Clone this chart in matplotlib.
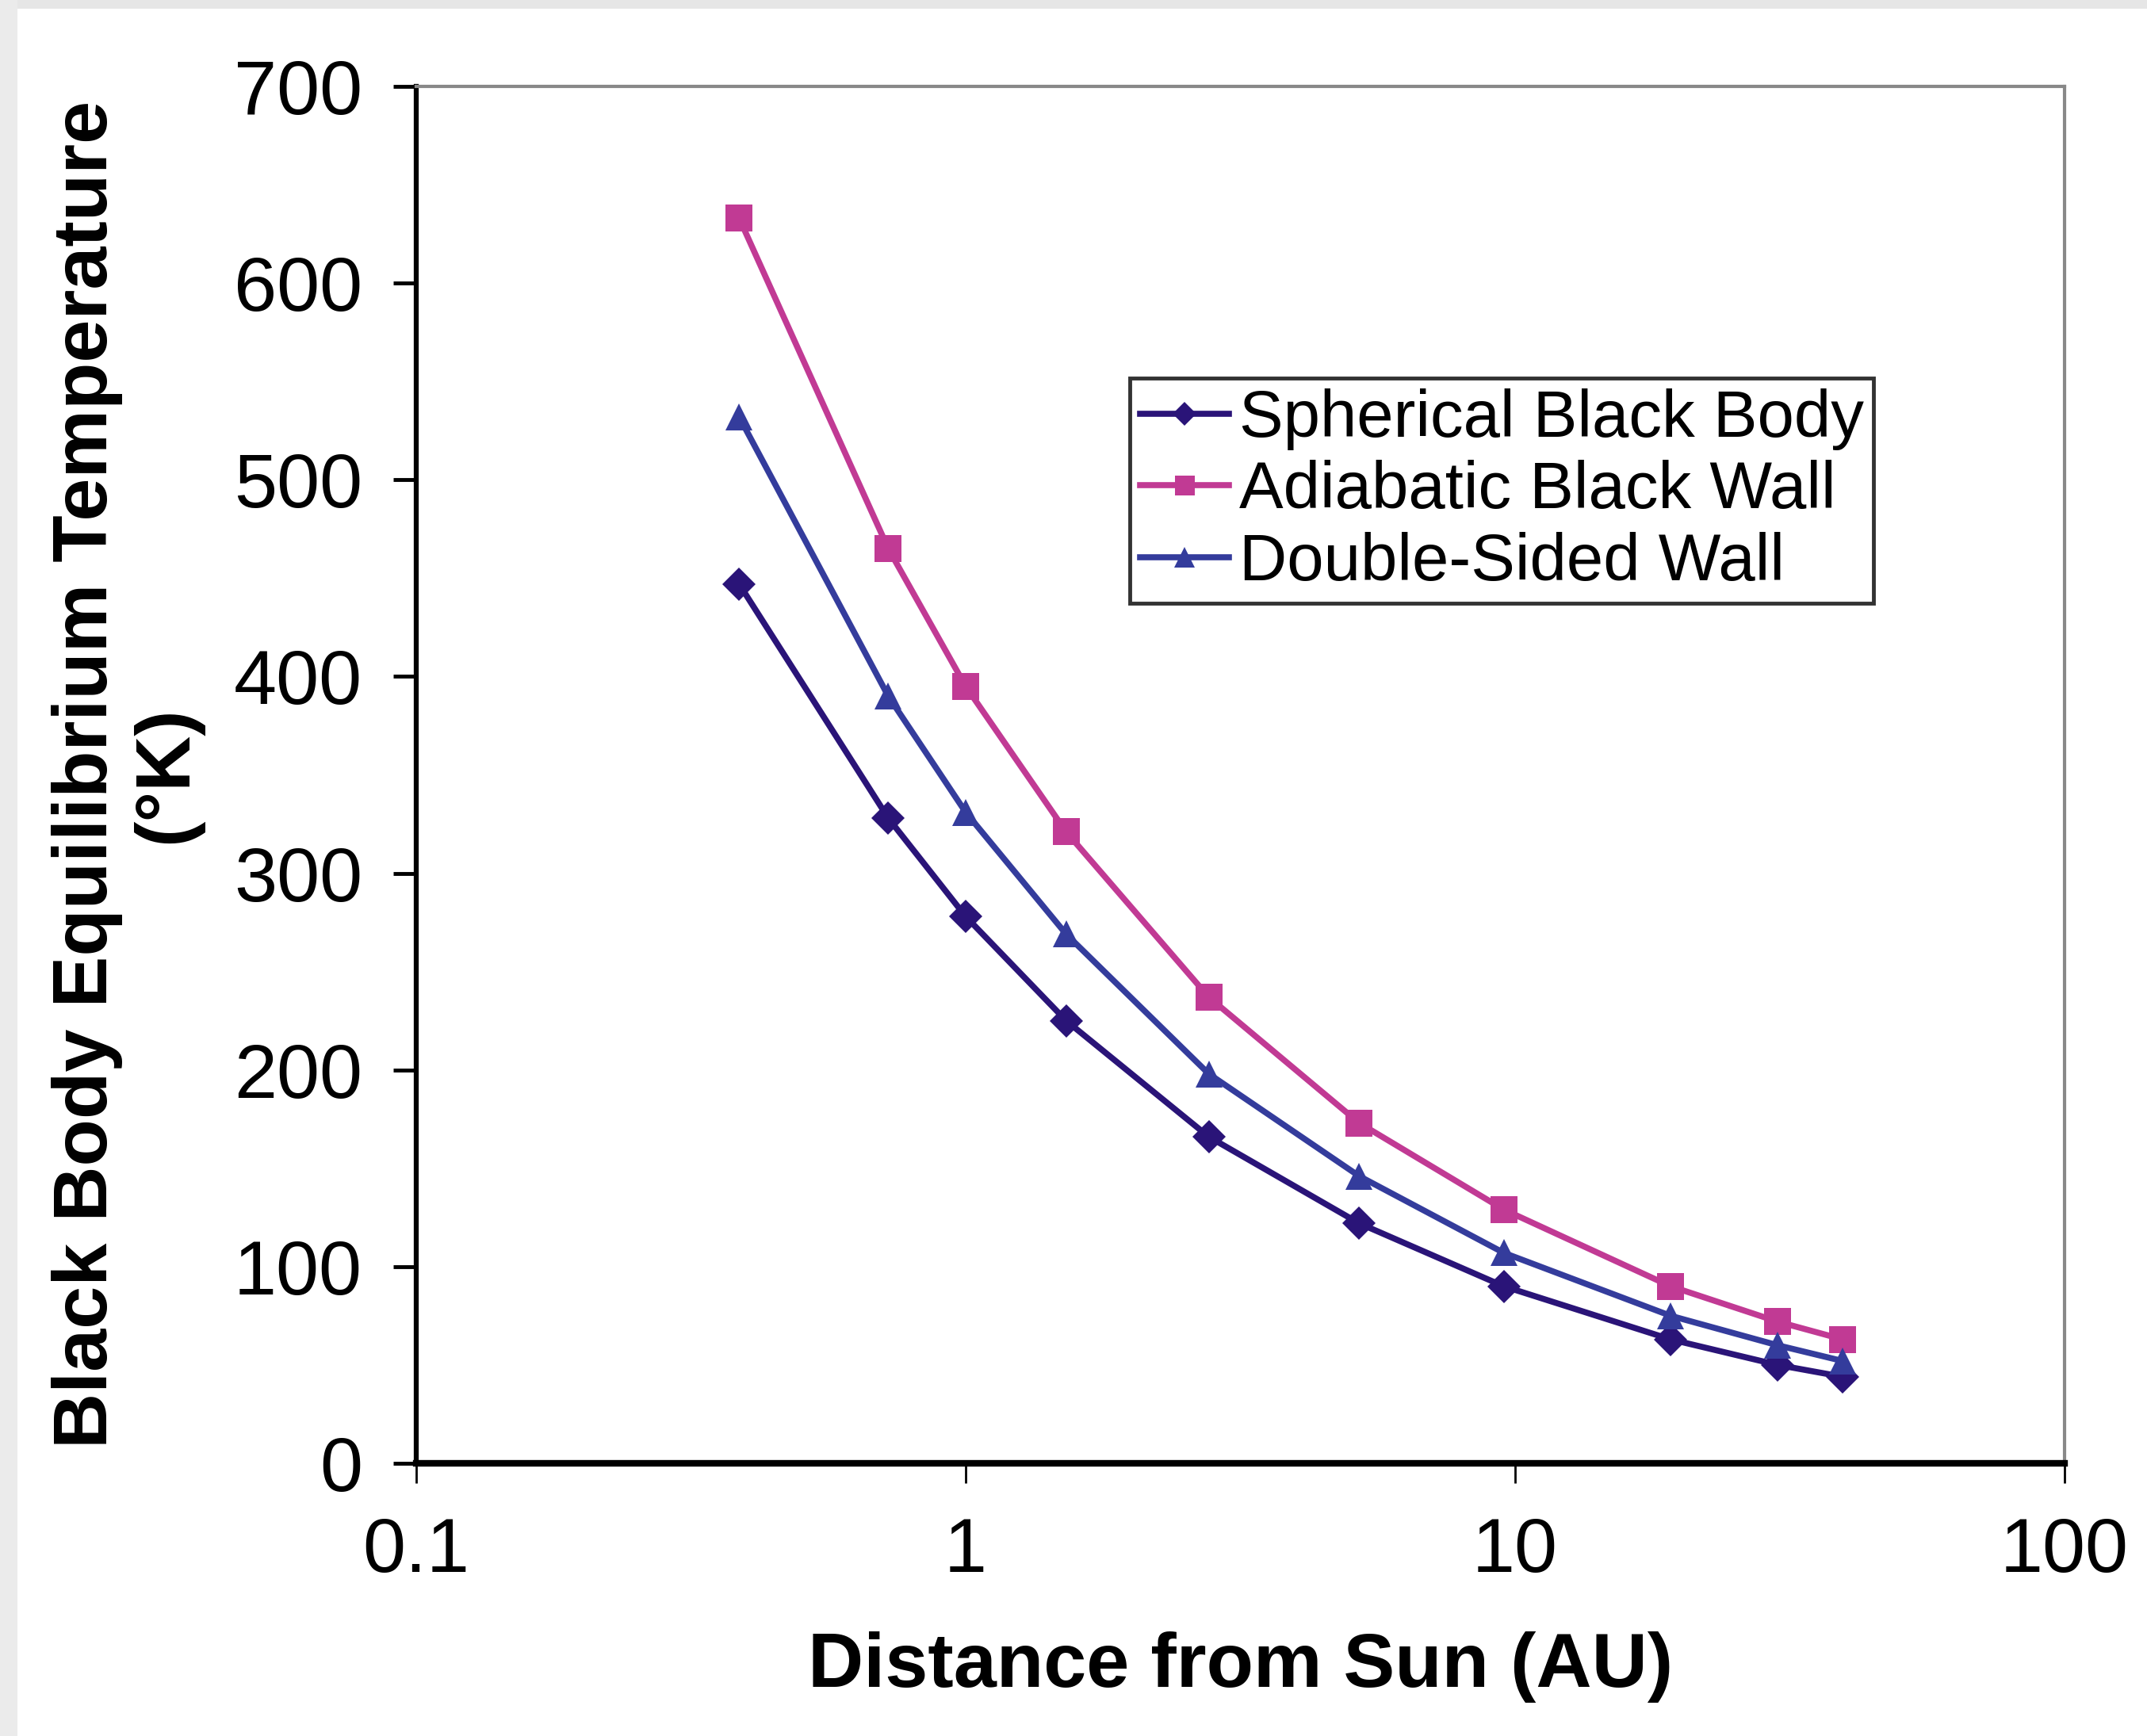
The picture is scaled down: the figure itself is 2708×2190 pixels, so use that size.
import numpy as np
import matplotlib
matplotlib.use("Agg")
import matplotlib.pyplot as plt
from matplotlib.patches import Rectangle

plt.rcParams['font.family'] = ['Liberation Sans', 'DejaVu Sans']

# distance from sun (AU) and temperatures (K)
distance = [0.387, 0.723, 1.0, 1.524, 2.77, 5.203, 9.537, 19.19, 30.07, 39.48]
spherical = [447, 328, 278, 225, 166, 122, 90, 63, 50, 44]
adiabatic = [633, 465, 395, 321, 237, 173, 129, 90, 72, 63]
double_sided = [532, 390, 331, 269, 198, 146, 107, 75, 60, 52]

series = [
    ("Spherical Black Body", spherical, "#2a1478", "D", 21),
    ("Adiabatic Black Wall", adiabatic, "#c13a94", "s", 24),
    ("Double-Sided Wall", double_sided, "#343c9c", "^", 25),
]

fig = plt.figure(figsize=(27.08, 21.9), dpi=100)
fig.patches.append(Rectangle((0, 1 - 11 / 2190), 1, 11 / 2190, transform=fig.transFigure,
                             facecolor="#e6e6e6", edgecolor="none", zorder=0))
fig.patches.append(Rectangle((0, 0), 22 / 2708, 1, transform=fig.transFigure,
                             facecolor="#ebebeb", edgecolor="none", zorder=0))

ax = fig.add_axes([525 / 2708, 1 - 1846 / 2190, (2604 - 525) / 2708, (1846 - 109) / 2190])

for name, vals, col, mk, ms in series:
    ax.plot(distance, vals, color=col, lw=5.5, marker=mk, markersize=ms,
            markeredgewidth=0, label=name)

ax.set_xscale("log")
ax.set_xlim(0.1, 100)
ax.set_ylim(0, 700)
ax.set_xticks([0.1, 1, 10, 100])
ax.set_xticklabels(["0.1", "1", "10", "100"])
ax.set_yticks(range(0, 701, 100))
ax.minorticks_off()

ax.tick_params(axis="x", direction="out", length=18, width=2, labelsize=70, pad=30)
ax.tick_params(axis="y", direction="out", length=21, width=3.5, labelsize=70, pad=28)

ax.spines["left"].set_linewidth(4.5)
ax.spines["bottom"].set_linewidth(6)
for s in ("top", "right"):
    ax.spines[s].set_color("#888888")
    ax.spines[s].set_linewidth(3)

ax.set_xlabel("Distance from Sun (AU)", fontsize=70, fontweight="bold", labelpad=40)
fig.text(160 / 2708, 1 - 977 / 2190, "Black Body Equilibrium Temperature\n(°K)",
         rotation=90, ha="center", va="center", multialignment="center",
         fontsize=70, fontweight="bold", linespacing=1.15)

leg = ax.legend(loc="upper left", bbox_to_anchor=(0.433, 0.788), fontsize=60,
                frameon=True, fancybox=False, borderaxespad=0, borderpad=0.15,
                handlelength=1.35, handletextpad=0.15, labelspacing=0.15,
                markerscale=0.75)
leg.get_frame().set_edgecolor("black")
leg.get_frame().set_linewidth(3.5)

fig.savefig("out.png", dpi=100)
